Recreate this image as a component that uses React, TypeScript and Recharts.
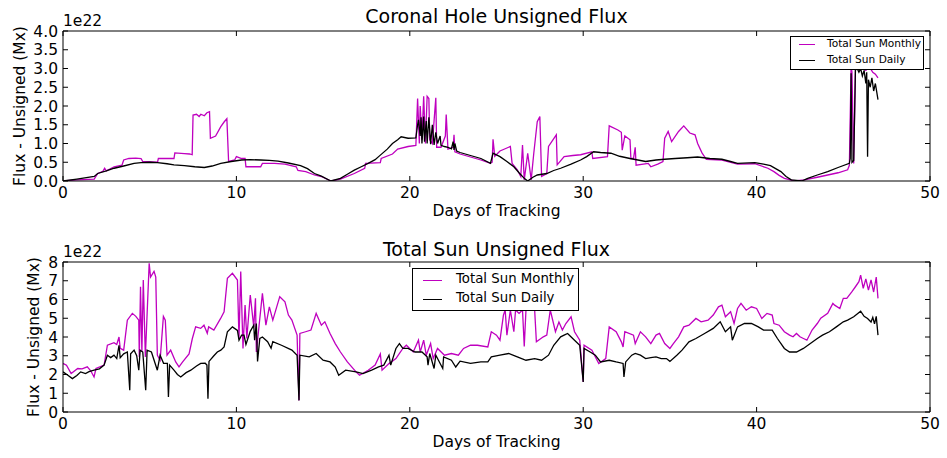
import React from 'react';
import { LineChart, Line, XAxis, YAxis } from 'recharts';

type Pt = [number, number];

// x = days of tracking, y = flux in units of 1e22 Mx
const dayTicks = [0, 10, 20, 30, 40, 50];
const chTicks = [0, 0.5, 1, 1.5, 2, 2.5, 3, 3.5, 4];
const tsTicks = [0, 1, 2, 3, 4, 5, 6, 7, 8];

// coronal hole, total sun monthly
const chMonthly: Pt[] = [
  [0, 0], [0.8, 0.03], [1.8, 0.05], [2.0, 0.2], [2.3, 0.26], [2.4, 0.34], [2.5, 0.27], [2.95, 0.38], [3.4, 0.42],
  [3.5, 0.56], [3.8, 0.6], [4.2, 0.61], [4.5, 0.6], [4.6, 0.52], [5.45, 0.5], [5.5, 0.6], [6.4, 0.6], [6.45, 0.75],
  [7.0, 0.73], [7.3, 0.72], [7.45, 0.7], [7.5, 1.76], [7.7, 1.78], [7.85, 1.72], [7.95, 1.78], [8.15, 1.74],
  [8.3, 1.82], [8.45, 1.85], [8.5, 1.14], [8.8, 1.2], [9.1, 1.45], [9.3, 1.58], [9.45, 1.66], [9.55, 0.52],
  [9.9, 0.56], [10.0, 0.65], [10.3, 0.6], [10.5, 0.6], [10.55, 0.38], [11.4, 0.38], [11.5, 0.47], [12.2, 0.47],
  [12.8, 0.45], [13.45, 0.38], [13.55, 0.28], [14.0, 0.25], [14.5, 0.16], [14.9, 0.12], [15.45, 0], [16.0, 0.05],
  [16.8, 0.2], [17.4, 0.34], [17.45, 0.47], [18.3, 0.49], [18.35, 0.6], [19.0, 0.72], [19.3, 0.85], [19.9, 0.92],
  [20.35, 0.95], [20.45, 2.2], [20.55, 1.0], [20.6, 2.0], [20.7, 1.1], [20.8, 2.26], [20.9, 1.0], [21.0, 2.26],
  [21.1, 2.2], [21.15, 1.1], [21.3, 1.0], [21.5, 2.22], [21.55, 0.9], [21.8, 0.9], [22.05, 1.2], [22.1, 1.77],
  [22.2, 0.85], [22.5, 0.9], [22.55, 1.23], [22.6, 0.78], [22.9, 0.72], [23.5, 0.64], [24.1, 0.56], [24.65, 0.47],
  [24.75, 0.5], [24.8, 1.11], [24.9, 0.66], [25.2, 0.8], [25.5, 0.86], [25.8, 0.92], [25.9, 0.47], [26.2, 0.3],
  [26.4, 0.12], [26.5, 0.96], [26.6, 0.03], [26.8, 0.74], [27.0, 0.03], [27.15, 0.74], [27.35, 1.58], [27.5, 1.72],
  [27.6, 0.12], [27.9, 0.2], [28.0, 0.92], [28.45, 1.23], [28.5, 0.43], [28.9, 0.65], [29.4, 0.68], [29.85, 0.7],
  [30.5, 0.78], [30.55, 0.6], [31.4, 0.65], [31.5, 1.47], [32.0, 1.36], [32.2, 1.3], [32.25, 0.82], [32.4, 1.2],
  [32.7, 1.1], [32.75, 0.6], [32.9, 0.6], [33.0, 0.9], [33.05, 0.42], [33.75, 0.47], [33.9, 0.38], [34.3, 0.45],
  [34.6, 0.52], [34.7, 1.14], [34.9, 1.32], [35.1, 1.05], [35.5, 1.32], [35.8, 1.47], [36.15, 1.28], [36.45, 1.23],
  [36.6, 1.0], [36.85, 0.75], [37.1, 0.58], [38.0, 0.56], [38.9, 0.45], [39.9, 0.46], [40.65, 0.34], [41.0, 0.25],
  [41.3, 0.15], [41.6, 0.07], [42.2, 0], [42.75, 0.03], [43.5, 0.1], [44.1, 0.16], [44.7, 0.22], [45.25, 0.3],
  [45.35, 0.42], [45.45, 3.05], [45.5, 2.9], [45.6, 0.47], [45.7, 3.0], [45.9, 3.1], [46.1, 3.0], [46.3, 2.95],
  [46.5, 3.05], [46.7, 2.9], [46.85, 2.85], [47.0, 2.75],
];

// coronal hole, total sun daily
const chDaily: Pt[] = [
  [0, 0], [0.8, 0.05], [1.8, 0.12], [2.0, 0.2], [2.5, 0.27], [2.95, 0.34], [3.5, 0.4], [4.1, 0.47], [4.5, 0.49],
  [5.0, 0.5], [5.45, 0.49], [6.0, 0.46], [6.4, 0.43], [7.0, 0.41], [7.6, 0.38], [8.15, 0.36], [8.6, 0.4],
  [9.1, 0.47], [9.7, 0.52], [10.3, 0.56], [10.8, 0.57], [11.4, 0.56], [11.9, 0.55], [12.4, 0.53], [13.0, 0.48],
  [13.7, 0.41], [14.1, 0.33], [14.5, 0.2], [14.9, 0.13], [15.45, 0], [16.0, 0.07], [16.4, 0.18], [16.8, 0.29],
  [17.2, 0.38], [17.6, 0.47], [18.0, 0.57], [18.3, 0.69], [18.7, 0.85], [19.0, 1.0], [19.3, 1.1], [19.5, 1.18],
  [19.9, 1.14], [20.35, 1.15], [20.45, 1.5], [20.5, 1.63], [20.6, 1.2], [20.65, 1.7], [20.7, 1.0], [20.8, 1.72],
  [20.85, 1.05], [20.95, 1.6], [21.0, 1.0], [21.1, 1.7], [21.2, 0.98], [21.3, 1.5], [21.4, 0.96], [21.5, 1.3],
  [21.6, 1.0], [21.75, 1.2], [21.8, 0.95], [22.0, 0.92], [22.2, 0.9], [22.4, 0.86], [22.5, 1.05], [22.55, 0.83],
  [22.6, 1.0], [22.7, 0.8], [22.9, 0.76], [23.5, 0.68], [24.1, 0.6], [24.65, 0.47], [24.8, 0.74], [25.2, 0.65],
  [25.6, 0.52], [26.0, 0.38], [26.3, 0.22], [26.6, 0.07], [26.8, 0], [27.1, 0.1], [27.35, 0.16], [27.9, 0.2],
  [28.3, 0.28], [28.7, 0.34], [29.3, 0.45], [29.85, 0.56], [30.2, 0.65], [30.6, 0.78], [31.0, 0.76], [31.6, 0.74],
  [32.1, 0.66], [32.7, 0.6], [33.6, 0.52], [34.2, 0.56], [34.7, 0.58], [35.3, 0.6], [36.0, 0.62], [36.6, 0.64],
  [37.3, 0.6], [38.0, 0.58], [38.5, 0.52], [38.9, 0.47], [39.9, 0.49], [40.4, 0.45], [40.8, 0.41], [41.1, 0.33],
  [41.4, 0.25], [41.7, 0.12], [42.0, 0.03], [42.6, 0], [42.95, 0.07], [43.5, 0.16], [44.1, 0.25], [44.7, 0.36],
  [45.35, 0.47], [45.4, 0.6], [45.45, 2.87], [45.5, 0.5], [45.6, 0.55], [45.7, 2.96], [45.8, 3.0], [45.9, 2.9],
  [46.0, 3.0], [46.1, 2.8], [46.2, 2.95], [46.3, 2.6], [46.35, 2.9], [46.4, 0.65], [46.45, 2.7], [46.55, 2.5],
  [46.65, 2.75], [46.75, 2.4], [46.85, 2.6], [47.0, 2.17],
];

// total sun, monthly
const tsMonthly: Pt[] = [
  [0, 2.59], [0.2, 2.5], [0.47, 2.05], [0.85, 2.32], [1.1, 2.3], [1.4, 2.41], [1.6, 2.2], [1.79, 1.87], [1.9, 2.32],
  [2.37, 2.5], [2.56, 3.56], [2.94, 3.7], [3.1, 3.6], [3.23, 4.0], [3.3, 3.4], [3.5, 3.3], [3.71, 4.9], [4.0, 5.26],
  [4.2, 5.1], [4.37, 4.9], [4.4, 2.94], [4.47, 6.68], [4.55, 3.2], [4.63, 7.04], [4.75, 2.94], [4.97, 7.93],
  [5.05, 7.2], [5.25, 7.5], [5.35, 7.2], [5.44, 3.03], [5.6, 2.76], [5.79, 5.1], [5.9, 4.9], [6.0, 3.03],
  [6.21, 3.3], [6.5, 2.67], [6.69, 2.41], [6.9, 2.67], [7.27, 3.1], [7.46, 3.92], [7.65, 4.54], [7.94, 4.46],
  [8.13, 4.63], [8.32, 4.2], [8.4, 4.54], [8.7, 4.37], [9.09, 4.99], [9.29, 5.34], [9.48, 7.13], [9.77, 7.4],
  [10.06, 7.04], [10.15, 3.92], [10.25, 7.49], [10.38, 3.39], [10.5, 5.7], [10.6, 3.92], [10.8, 6.24], [11.0, 4.54],
  [11.1, 6.06], [11.15, 3.2], [11.5, 6.33], [11.7, 4.63], [11.9, 5.61], [12.1, 4.9], [12.5, 6.15], [12.8, 5.88],
  [13.0, 5.17], [13.2, 4.9], [13.5, 4.1], [13.61, 0.62], [13.66, 4.19], [13.99, 4.28], [14.3, 4.37], [14.6, 5.26],
  [14.9, 4.63], [15.1, 4.81], [15.4, 4.19], [15.7, 3.65], [16.0, 3.2], [16.4, 2.67], [16.9, 2.14], [17.1, 1.96],
  [17.6, 2.23], [18.0, 2.5], [18.3, 3.1], [18.4, 2.23], [18.8, 2.58], [19.2, 2.85], [19.6, 3.39], [19.8, 3.56],
  [20.2, 3.2], [20.5, 3.83], [20.6, 3.2], [20.8, 3.83], [20.95, 3.03], [21.2, 3.65], [21.35, 2.85], [21.6, 3.39],
  [22.0, 3.03], [22.4, 3.12], [22.8, 3.03], [23.1, 3.39], [23.5, 3.56], [23.9, 3.56], [24.5, 3.47], [24.7, 4.28],
  [25.0, 4.1], [25.2, 3.83], [25.4, 5.17], [25.5, 5.44], [25.6, 4.1], [25.8, 5.44], [26.0, 4.28], [26.1, 5.44],
  [26.3, 5.26], [26.5, 5.44], [26.6, 3.5], [26.7, 5.44], [27.2, 5.44], [27.3, 3.74], [27.7, 4.01], [27.9, 4.1],
  [28.1, 5.44], [28.4, 4.28], [28.6, 4.8], [28.8, 4.37], [29.0, 4.72], [29.3, 5.08], [29.5, 4.28], [29.8, 3.83],
  [30.0, 1.6], [30.05, 3.56], [30.5, 3.3], [30.9, 2.59], [31.3, 2.85], [31.5, 4.54], [31.9, 4.28], [32.2, 3.74],
  [32.3, 3.47], [32.4, 4.28], [32.9, 4.1], [33.0, 3.65], [33.3, 4.28], [33.6, 4.01], [33.9, 3.65], [34.2, 4.1],
  [34.4, 4.19], [34.7, 3.65], [35.0, 3.39], [35.2, 3.65], [35.5, 4.01], [35.8, 4.54], [36.1, 4.63], [36.5, 4.99],
  [36.8, 4.81], [37.2, 4.9], [37.5, 5.17], [37.8, 5.61], [38.0, 5.7], [38.2, 5.08], [38.5, 5.35], [38.7, 4.72],
  [38.9, 5.52], [39.1, 5.79], [39.4, 5.43], [39.7, 5.61], [40.0, 5.52], [40.1, 5.35], [40.3, 4.99], [40.6, 5.26],
  [40.9, 5.17], [41.0, 4.72], [41.3, 4.63], [41.6, 4.28], [41.9, 4.1], [42.1, 4.01], [42.3, 4.19], [42.5, 4.01],
  [42.7, 3.92], [42.9, 3.83], [43.2, 4.37], [43.5, 4.72], [43.7, 5.0], [44.1, 5.26], [44.4, 5.79], [44.5, 5.7],
  [44.8, 5.52], [45.0, 6.06], [45.2, 6.06], [45.5, 6.42], [45.7, 6.68], [45.9, 6.95], [46.0, 7.3], [46.15, 6.6],
  [46.3, 7.1], [46.45, 6.5], [46.6, 7.05], [46.75, 6.4], [46.9, 7.2], [47.0, 6.06],
];

// total sun, daily
const tsDaily: Pt[] = [
  [0, 2.14], [0.3, 1.95], [0.54, 1.78], [0.8, 1.95], [1.02, 2.14], [1.3, 2.05], [1.5, 2.15], [1.79, 2.23],
  [2.1, 2.3], [2.37, 2.5], [2.56, 3.03], [2.75, 2.9], [2.94, 3.03], [3.1, 2.85], [3.23, 3.56], [3.3, 2.9],
  [3.5, 3.1], [3.71, 3.2], [3.85, 1.16], [3.9, 3.1], [4.1, 3.3], [4.25, 3.0], [4.37, 2.23], [4.45, 3.3], [4.6, 3.2],
  [4.77, 1.16], [4.85, 3.3], [5.1, 3.2], [5.44, 2.23], [5.6, 3.03], [5.8, 2.6], [6.02, 2.59], [6.08, 0.8],
  [6.15, 2.5], [6.4, 2.23], [6.6, 2.0], [6.79, 1.87], [7.1, 2.1], [7.37, 2.23], [7.7, 2.45], [7.94, 2.59],
  [8.2, 2.6], [8.3, 2.5], [8.36, 0.71], [8.42, 2.7], [8.7, 3.0], [8.9, 3.2], [9.1, 3.3], [9.29, 3.47], [9.48, 4.28],
  [9.77, 4.54], [10.06, 4.35], [10.15, 3.83], [10.3, 4.1], [10.44, 4.1], [10.55, 3.6], [10.8, 4.3], [11.0, 4.63],
  [11.05, 3.83], [11.15, 4.72], [11.22, 2.7], [11.35, 3.92], [11.5, 4.0], [11.8, 3.75], [12.0, 3.4], [12.1, 3.75],
  [12.6, 3.56], [13.2, 3.3], [13.5, 3.03], [13.61, 0.62], [13.66, 3.03], [14.2, 2.94], [14.6, 3.12], [15.0, 2.76],
  [15.4, 2.67], [15.7, 2.4], [15.9, 1.96], [16.3, 2.23], [16.9, 2.14], [17.3, 2.05], [17.8, 2.23], [18.2, 2.41],
  [18.5, 2.5], [18.8, 3.03], [18.9, 2.5], [19.2, 3.39], [19.4, 3.65], [19.6, 3.39], [19.9, 3.39], [20.3, 3.2],
  [20.7, 3.2], [21.0, 2.94], [21.05, 2.5], [21.15, 3.12], [21.4, 2.32], [21.5, 3.03], [21.6, 2.85], [21.9, 2.32],
  [21.95, 2.94], [22.4, 2.76], [22.65, 2.4], [22.9, 2.71], [23.5, 2.59], [24.1, 2.67], [24.5, 2.67], [24.7, 2.94],
  [25.2, 3.03], [25.7, 3.12], [26.2, 2.94], [26.7, 2.76], [27.2, 2.85], [27.6, 2.76], [28.0, 3.03], [28.3, 3.56],
  [28.7, 4.01], [28.9, 4.1], [29.1, 4.19], [29.5, 3.83], [29.8, 3.56], [30.0, 1.6], [30.05, 3.39], [30.4, 3.2],
  [30.7, 3.03], [31.0, 2.67], [31.5, 2.76], [31.9, 2.67], [32.3, 2.59], [32.35, 1.87], [32.45, 2.67], [32.8, 3.03],
  [33.0, 3.12], [33.3, 3.03], [33.6, 2.85], [33.9, 2.9], [34.2, 2.94], [34.5, 2.85], [34.8, 2.85], [35.0, 2.7],
  [35.4, 3.03], [35.7, 3.3], [36.1, 3.74], [36.5, 3.92], [37.0, 4.19], [37.5, 4.46], [37.9, 4.81], [38.2, 4.28],
  [38.5, 4.54], [38.6, 3.83], [38.9, 4.54], [39.3, 4.72], [39.7, 4.72], [40.1, 4.54], [40.4, 4.37], [40.9, 4.37],
  [41.2, 3.92], [41.6, 3.39], [41.9, 3.2], [42.3, 3.2], [42.7, 3.39], [43.1, 3.65], [43.5, 3.92], [43.8, 4.1],
  [44.2, 4.28], [44.6, 4.54], [45.0, 4.81], [45.25, 4.9], [45.6, 5.08], [46.0, 5.38], [46.2, 5.1], [46.4, 4.99],
  [46.6, 4.8], [46.7, 5.05], [46.8, 4.7], [46.9, 5.1], [47.0, 4.1],
];

const FONT = '"DejaVu Sans", sans-serif';
const MAGENTA = '#bf00bf';
const TICK_FS = 15.5;

const rows = (pts: Pt[]) => pts.map(([d, v]) => ({ d, v }));

function LegendBox({ left, top, width, height, fs, sx, sw, tx, ys }: any) {
  const items = [
    { name: 'Total Sun Monthly', color: MAGENTA },
    { name: 'Total Sun Daily', color: '#000' },
  ];
  return (
    <div style={{ position: 'absolute', left, top, width, height, border: '1px solid #000', background: '#fff', boxSizing: 'border-box' }}>
      {items.map((it, i) => (
        <React.Fragment key={it.name}>
          <div style={{ position: 'absolute', left: sx - left, top: Math.round(ys[i] - top - 1), width: sw, height: 1, background: it.color }} />
          <div style={{ position: 'absolute', left: tx - left, top: ys[i] - top - fs * 0.5 - 2, fontSize: fs, lineHeight: `${fs}px`, fontFamily: FONT, whiteSpace: 'nowrap' }}>
            {it.name}
          </div>
        </React.Fragment>
      ))}
    </div>
  );
}

function Panel({ top, height, marginTop, xAxisH, yMax, yTicks, fmt, monthly, daily, ylabelOffset, xlabelOffset }: any) {
  const tickStyle = { fontSize: TICK_FS, fill: '#000', fontFamily: FONT };
  return (
    <div style={{ position: 'absolute', left: 0, top }}>
      <LineChart width={947} height={height} margin={{ top: marginTop - 1, right: 16, bottom: 0, left: 0 }}>
        <XAxis
          dataKey="d" type="number" domain={[0, 50]} ticks={dayTicks} interval={0} height={xAxisH}
          tickSize={-5} tickMargin={11} tick={tickStyle} stroke="#000" allowDataOverflow
          label={{ value: 'Days of Tracking', position: 'insideBottom', offset: xlabelOffset, style: { fontSize: TICK_FS, fill: '#000', fontFamily: FONT } }}
        />
        <XAxis xAxisId="t" dataKey="d" orientation="top" type="number" domain={[0, 50]} ticks={dayTicks} interval={0} height={1}
          tickSize={-5} tickFormatter={() => ''} stroke="#000" allowDataOverflow />
        <YAxis
          type="number" domain={[0, yMax]} ticks={yTicks} interval={0} width={63} tickFormatter={fmt}
          tickSize={-5} tickMargin={10} tick={tickStyle} stroke="#000" allowDataOverflow
          label={{ value: 'Flux - Unsigned (Mx)', angle: -90, position: 'insideLeft', offset: ylabelOffset, style: { textAnchor: 'middle', fontSize: TICK_FS, fill: '#000', fontFamily: FONT } }}
        />
        <YAxis yAxisId="r" orientation="right" type="number" domain={[0, yMax]} ticks={yTicks} interval={0} width={1}
          tickSize={-5} tickFormatter={() => ''} stroke="#000" allowDataOverflow />
        <Line data={rows(monthly)} dataKey="v" stroke={MAGENTA} strokeWidth={1.3} dot={false} isAnimationActive={false} type="linear" />
        <Line data={rows(daily)} dataKey="v" stroke="#000" strokeWidth={1.3} dot={false} isAnimationActive={false} type="linear" />
        <Line data={rows(daily)} dataKey="v" xAxisId="t" yAxisId="r" stroke="none" dot={false} activeDot={false} legendType="none" isAnimationActive={false} />
      </LineChart>
    </div>
  );
}

const titleStyle: React.CSSProperties = {
  position: 'absolute', left: 63, width: 867, textAlign: 'center', fontSize: 19, lineHeight: '19px', fontFamily: FONT, whiteSpace: 'nowrap',
};
const expStyle: React.CSSProperties = {
  position: 'absolute', left: 63, fontSize: TICK_FS, lineHeight: `${TICK_FS}px`, fontFamily: FONT,
};

export default function App() {
  return (
    <div style={{ position: 'absolute', left: 0, top: 0, width: 947, height: 458, background: '#fff', overflow: 'hidden' }}>
      <Panel top={0} height={230} marginTop={31} xAxisH={49} yMax={4} yTicks={chTicks}
        fmt={(v: number) => v.toFixed(1)} monthly={chMonthly} daily={chDaily} ylabelOffset={19} xlabelOffset={14} />
      <Panel top={230} height={228} marginTop={32} xAxisH={46} yMax={8} yTicks={tsTicks}
        fmt={(v: number) => String(v)} monthly={tsMonthly} daily={tsDaily} ylabelOffset={33} xlabelOffset={11} />
      <div style={{ ...titleStyle, top: 7 }}>Coronal Hole Unsigned Flux</div>
      <div style={{ ...titleStyle, top: 239.5 }}>Total Sun Unsigned Flux</div>
      <div style={{ ...expStyle, top: 13.5 }}>1e22</div>
      <div style={{ ...expStyle, top: 245 }}>1e22</div>
      <LegendBox left={790} top={36} width={134} height={34} fs={10.6} sx={798} sw={16} tx={826} ys={[44.3, 60]} />
      <LegendBox left={412} top={268} width={167} height={43} fs={13.3} sx={422} sw={19} tx={455} ys={[280, 299]} />
    </div>
  );
}
